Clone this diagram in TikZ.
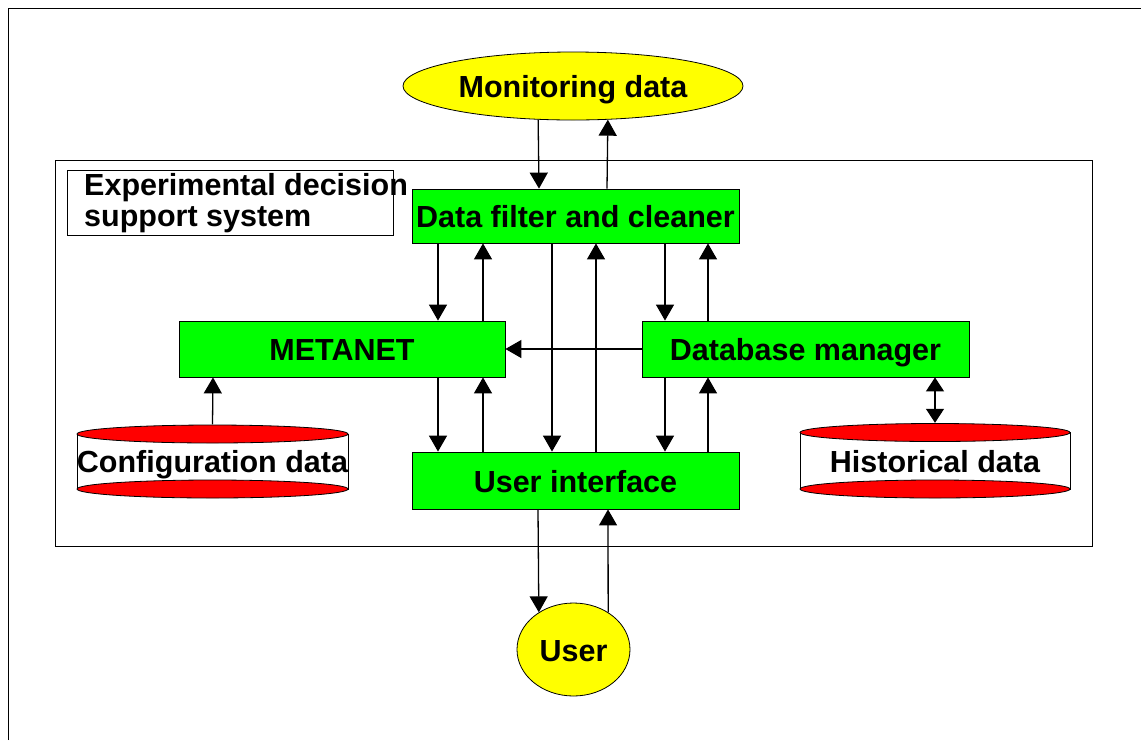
\documentclass[tikz,border=0pt]{standalone}
\usepackage{fontspec}
\setmainfont{Liberation Sans}
\usetikzlibrary{shapes.geometric,arrows.meta}
\definecolor{boxgreen}{RGB}{0,255,0}
\definecolor{ovalyellow}{RGB}{255,255,0}
\definecolor{dbred}{RGB}{255,0,0}
\begin{document}
\begin{tikzpicture}[x=1pt,y=-1pt,
  every node/.style={font=\fontsize{30.5}{31.5}\selectfont\bfseries},
  ctext/.style={text height=23pt, text depth=0pt},
  box/.style={ctext, draw=black, line width=0.8pt, fill=boxgreen, minimum width=327pt, minimum height=56pt, inner sep=0pt},
  oval/.style={ctext, ellipse, draw=black, line width=0.8pt, fill=ovalyellow, inner sep=0pt},
  arr/.style={line width=1.3pt, -{Triangle[width=18pt,length=16pt]}},
  dbl/.style={line width=1.3pt, {Triangle[width=18pt,length=14pt]}-{Triangle[width=18pt,length=14pt]}},
  frameline/.style={draw=black, line width=1pt},
  cylbody/.style={fill=white, draw=black, line width=0.8pt},
  cylend/.style={fill=dbred, draw=black, line width=0.8pt},
  cyltext/.style={ctext, minimum width=271pt, minimum height=73pt, inner sep=0pt},
  ]
\useasboundingbox (0,0) rectangle (1141,740);
% outer frame (only left and top visible)
\draw[frameline] (8,740) -- (8,8) -- (1141,8);
% decision support system frame
\node[draw=black, line width=1pt, minimum width=1037pt, minimum height=386pt, inner sep=0pt] (ess) at (573.5,353) {};
\node[draw=black, line width=0.8pt, minimum width=326pt, minimum height=65pt, inner sep=0pt] (tbox) at (230,202.5) {};
\node[anchor=north west, align=left, inner sep=0pt] (title) at (84,173) {Experimental decision\\support system};

% nodes
\node[oval, minimum width=340pt, minimum height=68pt] (mon) at (573,86) {Monitoring data};
\node[box, minimum height=54pt] (df) at (575.5,216) {Data filter and cleaner};
\node[box, minimum width=326pt] (met) at (342,349) {METANET};
\node[box] (db) at (805.5,349) {Database manager};
\node[box, minimum height=57pt] (ui) at (575.5,480.5) {User interface};
\node[oval, minimum width=113pt, minimum height=93pt] (user) at (573.5,649.5) {User};

% cylinders
\draw[cylbody] (77,434) rectangle (348,489);
\draw[cylend] (212.5,489) ellipse [x radius=135.5pt, y radius=9pt];
\draw[cylend] (212.5,434) ellipse [x radius=135.5pt, y radius=9pt];
\node[cyltext] (conf) at (212.5,461) {Configuration data};

\draw[cylbody] (800,432.5) rectangle (1070,489);
\draw[cylend] (935,489) ellipse [x radius=135pt, y radius=9pt];
\draw[cylend] (935,432.5) ellipse [x radius=135pt, y radius=9pt];
\node[cyltext, minimum width=270pt, minimum height=75pt] (hist) at (935,460.5) {Historical data};

% connectors
\draw[arr] (mon.224) -- ([xshift=-36.5pt]df.north);
\draw[arr] ([xshift=31.5pt]df.north) -- (mon.316);

\draw[arr] ([xshift=-137.5pt]df.south) -- ([xshift=96pt]met.north);
\draw[arr] ([xshift=141pt]met.north) -- ([xshift=-92.5pt]df.south);
\draw[arr] ([xshift=-23.5pt]df.south) -- ([xshift=-23.5pt]ui.north);
\draw[arr] ([xshift=20.5pt]ui.north) -- ([xshift=20.5pt]df.south);
\draw[arr] ([xshift=89.5pt]df.south) -- ([xshift=-140.5pt]db.north);
\draw[arr] ([xshift=-97.5pt]db.north) -- ([xshift=132.5pt]df.south);

\draw[arr] (db.west) -- (met.east);

\draw[arr] ([xshift=96pt]met.south) -- ([xshift=-137.5pt]ui.north);
\draw[arr] ([xshift=-92.5pt]ui.north) -- ([xshift=141pt]met.south);
\draw[arr] ([xshift=-140.5pt]db.south) -- ([xshift=89.5pt]ui.north);
\draw[arr] ([xshift=132.5pt]ui.north) -- ([xshift=-97.5pt]db.south);

\draw[arr] (conf.north) -- ([xshift=-129pt]met.south);
\draw[dbl] ([xshift=129.5pt]db.south) -- (hist.north);

\draw[arr] ([xshift=-37.5pt]ui.south) -- (user.133);
\draw[arr] (user.47) -- ([xshift=32.5pt]ui.south);
\end{tikzpicture}
\end{document}
